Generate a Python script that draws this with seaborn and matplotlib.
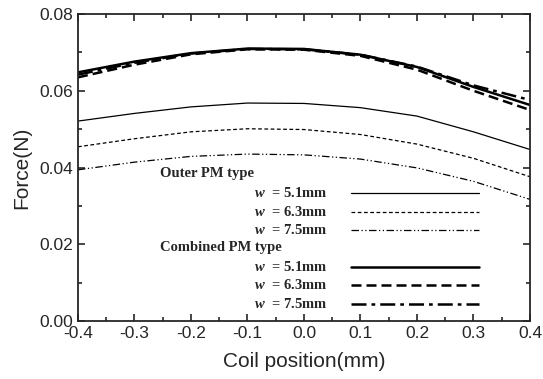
import pandas as pd
import seaborn as sns
import matplotlib.pyplot as plt
from matplotlib.lines import Line2D
from matplotlib.ticker import MultipleLocator

# Dados
posicao = [-0.4, -0.3, -0.2, -0.1, 0.0, 0.1, 0.2, 0.3, 0.4]

externo_51 = [0.0521, 0.0541, 0.0558, 0.0568, 0.0567, 0.0556, 0.0534, 0.0493, 0.0447]
externo_63 = [0.0454, 0.0475, 0.0493, 0.0501, 0.0499, 0.0486, 0.0461, 0.0424, 0.0376]
externo_75 = [0.0394, 0.0414, 0.0429, 0.0435, 0.0433, 0.0422, 0.0399, 0.0364, 0.0317]

combinado_51 = [0.0648, 0.0676, 0.0698, 0.0710, 0.0709, 0.0694, 0.0662, 0.0610, 0.0563]
combinado_63 = [0.0635, 0.0668, 0.0695, 0.0708, 0.0707, 0.0691, 0.0655, 0.0600, 0.0550]
combinado_75 = [0.0642, 0.0673, 0.0697, 0.0709, 0.0708, 0.0694, 0.0663, 0.0614, 0.0576]

rotulos = [r"$w$  = 5.1mm", r"$w$  = 6.3mm", r"$w$  = 7.5mm"]

sns.set_style("ticks")
plt.rcParams['font.family'] = ['Liberation Sans', 'DejaVu Sans']
plt.rcParams['mathtext.fontset'] = 'custom'
plt.rcParams['mathtext.it'] = 'Liberation Serif:italic:bold'
plt.rcParams['mathtext.rm'] = 'Liberation Serif:bold'

fig = plt.figure(figsize=(5.43, 3.79), dpi=100)
ax = fig.add_axes([0.1436, 0.153, 0.8324, 0.81])

estilos_ext = ['-', (0, (3, 2)), (0, (6, 2, 1, 2, 1, 2))]
estilos_comb = ['-', (0, (4, 2)), (0, (6, 2, 1.5, 2))]

series_ext = [externo_51, externo_63, externo_75]
series_comb = [combinado_51, combinado_63, combinado_75]

for valores, ls in zip(series_ext, estilos_ext):
    df = pd.DataFrame({'x': posicao, 'y': valores})
    sns.lineplot(data=df, x='x', y='y', color='black', lw=0.9, ax=ax, linestyle=ls)

for valores, ls in zip(series_comb, estilos_comb):
    df = pd.DataFrame({'x': posicao, 'y': valores})
    sns.lineplot(data=df, x='x', y='y', color='black', lw=1.8, ax=ax, linestyle=ls)

ax.set_xlim(-0.4, 0.4)
ax.set_ylim(0.0, 0.08)
ax.xaxis.set_major_locator(MultipleLocator(0.1))
ax.xaxis.set_minor_locator(MultipleLocator(0.05))
ax.yaxis.set_major_locator(MultipleLocator(0.02))
ax.yaxis.set_minor_locator(MultipleLocator(0.01))
ax.xaxis.set_major_formatter(plt.FuncFormatter(lambda v, p: f"{v:.1f}"))
ax.yaxis.set_major_formatter(plt.FuncFormatter(lambda v, p: f"{v:.2f}"))
ax.tick_params(which='both', direction='in', top=True, right=True, labelsize=12.5, width=1.2)
ax.tick_params(which='major', length=5)
ax.tick_params(which='minor', length=3)
for s in ax.spines.values():
    s.set_linewidth(1.3)

ax.set_xlabel('Coil position(mm)', fontsize=15, labelpad=8)
ax.set_ylabel('Force(N)', fontsize=15, labelpad=6)

# Legenda desenhada à mão
fonte_leg = dict(family='Liberation Serif', weight='bold', fontsize=10.5)
ax.text(0.181, 0.479, 'Outer PM type', transform=ax.transAxes, va='center', ha='left', **fonte_leg)
ax.text(0.181, 0.238, 'Combined PM type', transform=ax.transAxes, va='center', ha='left', **fonte_leg)

linhas_y_ext = [0.417, 0.355, 0.296]
linhas_y_comb = [0.176, 0.117, 0.055]
for rot, yy, ls in zip(rotulos, linhas_y_ext, estilos_ext):
    ax.text(0.552, yy, rot, transform=ax.transAxes, va='center', ha='right', **fonte_leg)
    ax.add_line(Line2D([0.605, 0.887], [yy, yy], transform=ax.transAxes, color='black', lw=0.9, linestyle=ls))
for rot, yy, ls in zip(rotulos, linhas_y_comb, estilos_comb):
    ax.text(0.552, yy, rot, transform=ax.transAxes, va='center', ha='right', **fonte_leg)
    ax.add_line(Line2D([0.605, 0.887], [yy, yy], transform=ax.transAxes, color='black', lw=1.8, linestyle=ls))

fig.savefig('out.png', dpi=100)
